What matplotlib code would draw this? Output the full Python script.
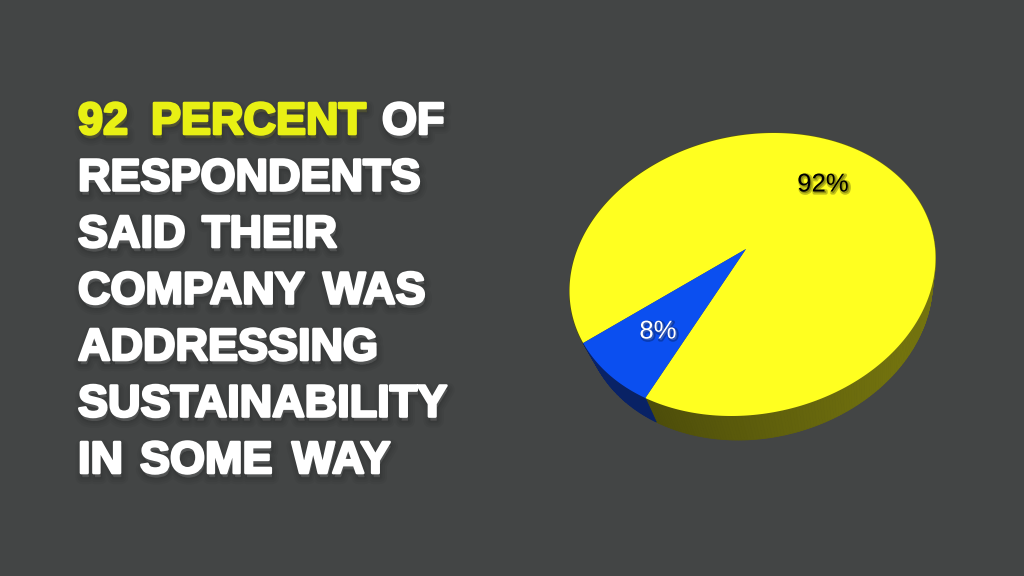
import numpy as np
import matplotlib
matplotlib.use("Agg")
import matplotlib.pyplot as plt
import matplotlib.patheffects as pe
from matplotlib.collections import PolyCollection
from matplotlib.colors import to_rgb

# data
slice_names = ["Yes", "No"]
slice_values = [92, 8]
slice_labels = ["92%", "8%"]
headline_lines = [["92", "PERCENT", "OF"], ["RESPONDENTS"], ["SAID", "THEIR"],
                  ["COMPANY", "WAS"], ["ADDRESSING"], ["SUSTAINABILITY"],
                  ["IN", "SOME", "WAY"]]
word_x = [[78, 151, 382], [78], [78, 202], [78, 323], [78], [78], [78, 140, 292]]

BG = "#434545"
YELLOW_TOP = "#ffff20"
BLUE_TOP = "#0b4ff0"
HILITE = "#e8f014"

plt.rcParams["font.family"] = ["Liberation Sans", "DejaVu Sans"]

fig = plt.figure(figsize=(10.24, 5.76), dpi=100, facecolor=BG)
ax = fig.add_axes([0, 0, 1, 1])
ax.set_xlim(0, 1024)
ax.set_ylim(576, 0)
ax.axis("off")

# tilted ellipse of the pie top, seen in perspective
center = np.array([752.5, 274.5])
L = np.linalg.cholesky(np.array([[183.0**2, -3000.0], [-3000.0, 141.5**2]]))
Linv = np.linalg.inv(L)
apex = Linv @ (np.array([746.0, 249.0]) - center)
r = np.hypot(*apex)
phi = np.arctan2(apex[1], apex[0])


def boost(p, a):
    # projective map of the unit disc that moves its centre along x by a
    c, s = np.cos(phi), np.sin(phi)
    x = c * p[0] + s * p[1]
    y = -s * p[0] + c * p[1]
    d = 1 + a * x
    xn = (x + a) / d
    yn = np.sqrt(1 - a**2) * y / d
    return np.array([c * xn - s * yn, s * xn + c * yn])


def to_screen(theta, rad=1.0):
    p = boost(np.array([rad * np.cos(theta), rad * np.sin(theta)]), r)
    return (L @ p).T + center


def disc_angle(pt):
    d = Linv @ (np.array(pt, float) - center)
    d = d / np.hypot(*d)
    b = boost(d, -r)
    return np.arctan2(b[1], b[0])


# blue slice is placed from where its edges meet the rim
a1 = disc_angle((645.5, 398.0))
a2 = disc_angle((583.0, 343.0))
mid = np.arctan2(np.sin(a1) + np.sin(a2), np.cos(a1) + np.cos(a2))

spans = np.array(slice_values) / sum(slice_values) * 2 * np.pi
blue_start = mid - spans[1] / 2
blue_t = np.linspace(blue_start, blue_start + spans[1], 40)
yellow_t = np.linspace(blue_start + spans[1], blue_start + 2 * np.pi, 400)
apex_px = L @ apex + center


def side_offset(p):
    # the side leans inward towards the right because of the perspective
    return np.array([11 - 14 * (p[0] - 645) / 290, 24.0])


# extruded side
for ts, base, lo, hi in [(yellow_t, YELLOW_TOP, 0.30, 0.45),
                         (blue_t, "#0b2a80", 0.80, 0.80)]:
    pts = to_screen(ts)
    quads, cols = [], []
    for i in range(len(ts) - 1):
        a, b = pts[i], pts[i + 1]
        quads.append([a, b, b + side_offset(b), a + side_offset(a)])
        k = np.clip((a[0] - 640) / 260, 0, 1)
        shade = lo + (hi - lo) * k
        cols.append(tuple(np.array(to_rgb(base)) * shade))
    ax.add_collection(PolyCollection(quads, facecolors=cols, edgecolors=cols, linewidths=0.6))

# top surface
yellow_poly = np.vstack([apex_px, to_screen(yellow_t)])
blue_poly = np.vstack([apex_px, to_screen(blue_t)])
ax.fill(yellow_poly[:, 0], yellow_poly[:, 1], color=YELLOW_TOP, lw=0)
ax.fill(blue_poly[:, 0], blue_poly[:, 1], color=BLUE_TOP, lw=0)


def soft_shadow(color="black", dx=1, dy=3, widths=(10, 7, 4, 2), alpha=0.04):
    return [pe.Stroke(linewidth=w, foreground=color, alpha=alpha, offset=(dx, -dy))
            for w in widths]


def headline(x, y, s, color):
    t = ax.text(x, y, s, color=color, fontsize=32.4, fontweight="bold",
                ha="left", va="baseline")
    t.set_path_effects(soft_shadow() + [pe.Stroke(linewidth=1.9, foreground=color), pe.Normal()])


for i, (words, xs) in enumerate(zip(headline_lines, word_x)):
    for word, x in zip(words, xs):
        color = HILITE if i == 0 and word != "OF" else "white"
        headline(x, 134 + 56.5 * i, word, color)

# slice labels
for (x, y), s, c in zip([(823, 184.5), (658, 331.5)], slice_labels, ["black", "white"]):
    t = ax.text(x, y, s, color=c, fontsize=18.5, ha="center", va="center")
    t.set_path_effects([pe.Stroke(linewidth=2.5, foreground="black", alpha=0.25, offset=(1, -1)),
                        pe.Normal()])

fig.savefig("out.png", dpi=100, facecolor=BG)
plt.close(fig)
